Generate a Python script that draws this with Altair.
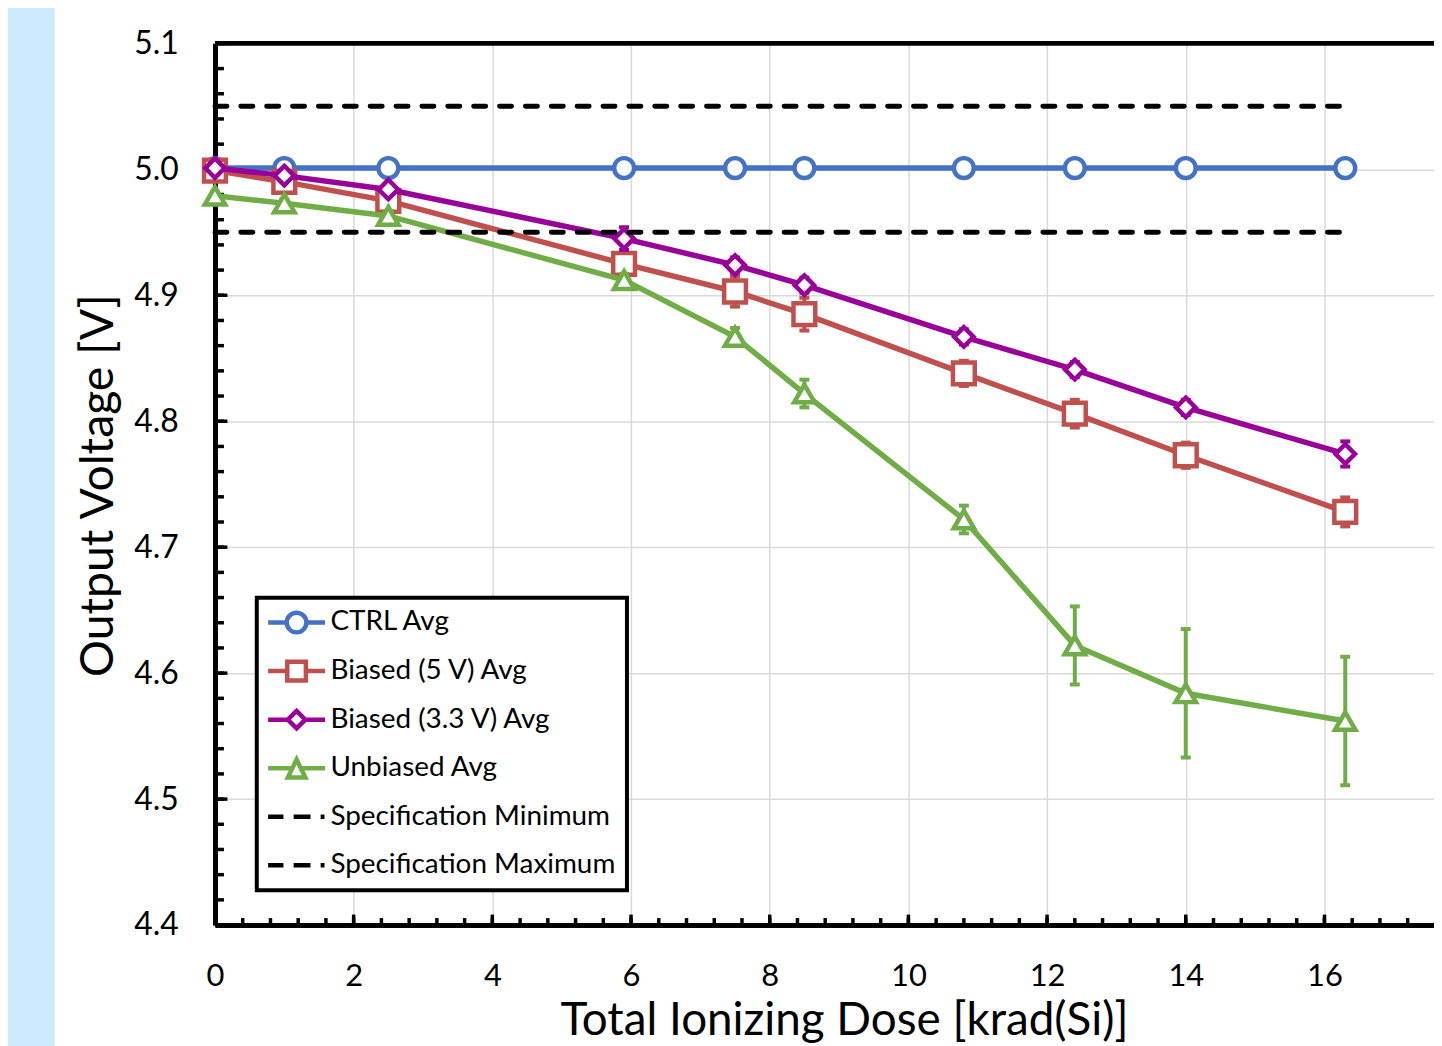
import altair as alt
import pandas as pd

# ---------------- data ----------------
dose = [0.0, 1.0, 2.5, 5.9, 7.5, 8.5, 10.8, 12.4, 14.0, 16.3]
ctrl = [5.001, 5.001, 5.001, 5.001, 5.001, 5.001, 5.001, 5.001, 5.001, 5.001]
ctrl_err = [0, 0, 0, 0, 0, 0, 0, 0, 0, 0]
biased5 = [4.999, 4.990, 4.975, 4.925, 4.903, 4.885, 4.838, 4.806, 4.773, 4.728]
biased5_err = [0.003, 0.004, 0.005, 0.006, 0.012, 0.013, 0.010, 0.011, 0.010, 0.0115]
biased33 = [5.001, 4.995, 4.984, 4.945, 4.924, 4.908, 4.867, 4.841, 4.811, 4.774]
biased33_err = [0.002, 0.002, 0.003, 0.009, 0.006, 0.006, 0.006, 0.006, 0.006, 0.010]
unbiased = [4.979, 4.973, 4.963, 4.912, 4.867, 4.822, 4.722, 4.622, 4.584, 4.562]
unbiased_err = [0.003, 0.003, 0.004, 0.005, 0.007, 0.011, 0.011, 0.031, 0.051, 0.051]
spec_min = 4.95
spec_max = 5.05

names = ["CTRL Avg", "Biased (5 V) Avg", "Biased (3.3 V) Avg", "Unbiased Avg",
         "Specification Minimum", "Specification Maximum"]
colors = ["#4472C4", "#C0504D", "#990099", "#70AD47", "#000000", "#000000"]
x_ticks = [0, 2, 4, 6, 8, 10, 12, 14, 16]
y_ticks = [4.4, 4.5, 4.6, 4.7, 4.8, 4.9, 5.0, 5.1]

# ---------------- layout ----------------
W, H = 1225, 886
PAD_L, PAD_T, PAD_B = 208, 33, 119
X_MAX = 17.58
FONT = "Lato"

xs = alt.Scale(domain=[0, X_MAX], nice=False, zero=False)
ys = alt.Scale(domain=[4.4, 5.1], nice=False, zero=False)

xaxis = alt.Axis(values=x_ticks, format="d", grid=True, gridColor="#D9D9D9", gridWidth=1.5,
                 domainColor="black", domainWidth=5, ticks=False, tickSize=0,
                 labelFont=FONT, labelFontSize=31, labelColor="black", labelPadding=36.5,
                 labelFlush=False, labelOverlap=False,
                 title="Total Ionizing Dose [krad(Si)]", titleFont=FONT, titleFontSize=46,
                 titleFontWeight="normal", titleColor="black", titleX=632, titleY=110,
                 titleBaseline="alphabetic", titleAlign="center")
yaxis = alt.Axis(values=y_ticks, format=".1f", grid=True, gridColor="#D9D9D9", gridWidth=1.5,
                 domainColor="black", domainWidth=5, ticks=False, tickSize=0,
                 labelFont=FONT, labelFontSize=32, labelColor="black", labelPadding=37,
                 labelOverlap=False,
                 title="Output Voltage [V]", titleFont=FONT, titleFontSize=46.5,
                 titleFontWeight="normal", titleColor="black", titleAngle=270,
                 titleX=-103, titleY=H / 2 + 1, titleBaseline="alphabetic", titleAlign="center")


def X(f):
    return alt.X(f, scale=xs, axis=xaxis)


def Y(f):
    return alt.Y(f, scale=ys, axis=yaxis)


layers = []

# blue strip at the left
layers.append(alt.Chart(pd.DataFrame({"a": [0]})).mark_rect(color="#CCEBFE").encode(
    x=alt.value(-PAD_L), x2=alt.value(-PAD_L + 47),
    y=alt.value(-PAD_T - 10), y2=alt.value(H + PAD_B + 10)))

# top frame line
layers.append(alt.Chart(pd.DataFrame({"v": [5.1]})).mark_rule(color="black", strokeWidth=5).encode(
    y=Y("v:Q"), x=alt.value(0), x2=alt.value(W)))

# inward ticks (left and bottom)
y_minor = [round(4.4 + 0.02 * i, 2) for i in range(36)]
x_minor = [round(0.4 * i, 1) for i in range(45) if 0.4 * i <= X_MAX]
layers.append(alt.Chart(pd.DataFrame({"v": y_minor})).mark_rule(color="black", strokeWidth=3.5).encode(
    y=Y("v:Q"), x=alt.value(0), x2=alt.value(9)))
layers.append(alt.Chart(pd.DataFrame({"v": y_ticks})).mark_rule(color="black", strokeWidth=3.5).encode(
    y=Y("v:Q"), x=alt.value(0), x2=alt.value(12.5)))
layers.append(alt.Chart(pd.DataFrame({"v": x_minor})).mark_rule(color="black", strokeWidth=3.5).encode(
    x=X("v:Q"), y=alt.value(H), y2=alt.value(H - 7)))
layers.append(alt.Chart(pd.DataFrame({"v": x_ticks})).mark_rule(color="black", strokeWidth=3.5).encode(
    x=X("v:Q"), y=alt.value(H), y2=alt.value(H - 10.5)))

# series
series = [
    (ctrl, ctrl_err, colors[0], "circle", 400),
    (biased5, biased5_err, colors[1], "square", 480),
    (biased33, biased33_err, colors[2], "diamond", 380),
    (unbiased, unbiased_err, colors[3], "triangle-up", 420),
]
for vals, errs, col, shp, sz in series:
    df = pd.DataFrame({"x": dose, "y": vals,
                       "lo": [v - e for v, e in zip(vals, errs)],
                       "hi": [v + e for v, e in zip(vals, errs)]})
    layers.append(alt.Chart(df).mark_line(color=col, strokeWidth=5.5).encode(
        x=X("x:Q"), y=Y("y:Q")))
    if max(errs) > 0:
        layers.append(alt.Chart(df).mark_rule(color=col, strokeWidth=4).encode(
            x=X("x:Q"), y=Y("lo:Q"), y2="hi:Q"))
        layers.append(alt.Chart(df).mark_tick(color=col, orient="horizontal", size=10, thickness=4,
                                              opacity=1).encode(x=X("x:Q"), y=Y("lo:Q")))
        layers.append(alt.Chart(df).mark_tick(color=col, orient="horizontal", size=10, thickness=4,
                                              opacity=1).encode(x=X("x:Q"), y=Y("hi:Q")))
    layers.append(alt.Chart(df).mark_point(shape=shp, size=sz, filled=True, fill="white",
                                           stroke=col, strokeWidth=4.5, opacity=1).encode(
        x=X("x:Q"), y=Y("y:Q")))

# specification lines
spec_df = pd.DataFrame({"v": [spec_min, spec_max], "x0": [dose[0], dose[0]], "x1": [dose[-1], dose[-1]]})
layers.append(alt.Chart(spec_df).mark_rule(color="black", strokeWidth=5, strokeDash=[12, 14],
                                           strokeCap="round").encode(
    y=Y("v:Q"), x=X("x0:Q"), x2="x1:Q"))

# legend (empty layer carrying the legend only)
paths = [
    "M-2.6,0H-0.9M0.9,0H2.6M0.9,0A0.9,0.9,0,1,1,-0.9,0A0.9,0.9,0,1,1,0.9,0Z",
    "M-2.6,0H-0.85M0.85,0H2.6M-0.85,-0.85H0.85V0.85H-0.85Z",
    "M-2.6,0H-0.8M0.8,0H2.6M-0.8,0L0,-0.8L0.8,0L0,0.8Z",
    "M-2.6,0H-0.4M0.4,0H2.6M0,-0.8L0.8,0.85H-0.8Z",
    "M-2.6,0H-1.2M-0.27,0H1.27M2.2,0H2.55",
    "M-2.6,0H-1.2M-0.27,0H1.27M2.2,0H2.55",
]
leg = alt.Legend(title=None, orient="none", legendX=42, legendY=557,
                 labelFont=FONT, labelFontSize=28, labelColor="black", labelLimit=600,
                 symbolSize=484, symbolStrokeWidth=4.5, symbolFillColor="white", symbolOpacity=1,
                 symbolOffset=15, labelOffset=20, rowPadding=10.8, padding=11, gridAlign="all",
                 strokeColor="black", fillColor="white")
leg_df = pd.DataFrame({"series": names, "x": [0.0] * 6, "y": [5.0] * 6})
layers.append(alt.Chart(leg_df).transform_filter("false").mark_point(
    filled=True, fill="white", strokeWidth=4.5, opacity=1).encode(
    x=X("x:Q"), y=Y("y:Q"),
    stroke=alt.Stroke("series:N", scale=alt.Scale(domain=names, range=colors), legend=leg),
    shape=alt.Shape("series:N", scale=alt.Scale(domain=names, range=paths), legend=leg)))

chart = alt.layer(*layers).properties(
    width=W, height=H,
    autosize=alt.AutoSizeParams(type="none"),
    padding={"left": PAD_L, "top": PAD_T, "right": 0, "bottom": PAD_B},
    background="white",
).configure_view(stroke=None).configure_legend(strokeWidth=4)

chart.save("out.html", embed_options={"renderer": "svg", "actions": False})
